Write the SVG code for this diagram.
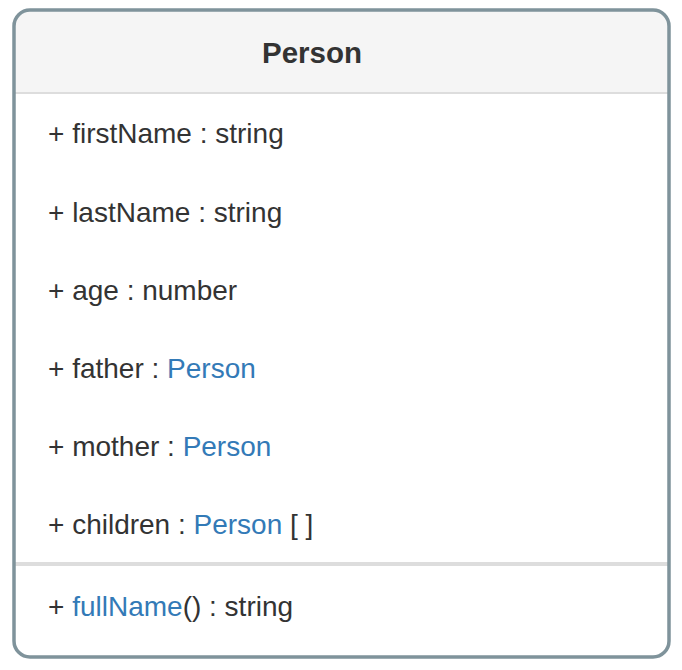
<svg xmlns="http://www.w3.org/2000/svg" width="682" height="670" viewBox="0 0 682 670">
  <style>
    .t { font-family: "Liberation Sans", Arial, Helvetica, sans-serif; font-size: 28px; fill: #333333; }
    .title { font-family: "Liberation Sans", Arial, Helvetica, sans-serif; font-size: 29.5px; font-weight: bold; fill: #333333; }
    .ty { fill: #337ab7; }
  </style>
  <defs>
    <clipPath id="boxclip">
      <rect x="14" y="10" width="655" height="647" rx="16" ry="16"/>
    </clipPath>
  </defs>
  <rect width="682" height="670" fill="#ffffff"/>
  <g id="Person">
    <rect x="14" y="10" width="655" height="647" rx="16" ry="16" fill="#ffffff"/>
    <g clip-path="url(#boxclip)">
      <rect x="14" y="10" width="655" height="82" fill="#f5f5f5"/>
      <rect x="14" y="92" width="655" height="2" fill="#dddddd"/>
      <rect x="14" y="562" width="655" height="4" fill="#dddddd"/>
    </g>
    <rect x="14" y="10" width="655" height="647" rx="16" ry="16" fill="none" stroke="#7f939b" stroke-width="3.5"/>
    <text class="title" x="312" y="63" text-anchor="middle">Person</text>
    <text class="t" x="48" y="143">+ firstName : string</text>
    <text class="t" x="48" y="222">+ lastName : string</text>
    <text class="t" x="48" y="300">+ age : number</text>
    <text class="t" x="48" y="378">+ father : <tspan class="ty">Person</tspan></text>
    <text class="t" x="48" y="456">+ mother : <tspan class="ty">Person</tspan></text>
    <text class="t" x="48" y="534">+ children : <tspan class="ty">Person</tspan> [ ]</text>
    <text class="t" x="48" y="616">+ <tspan class="ty">fullName</tspan>() : string</text>
  </g>
  <g id="connectors"/>
</svg>
